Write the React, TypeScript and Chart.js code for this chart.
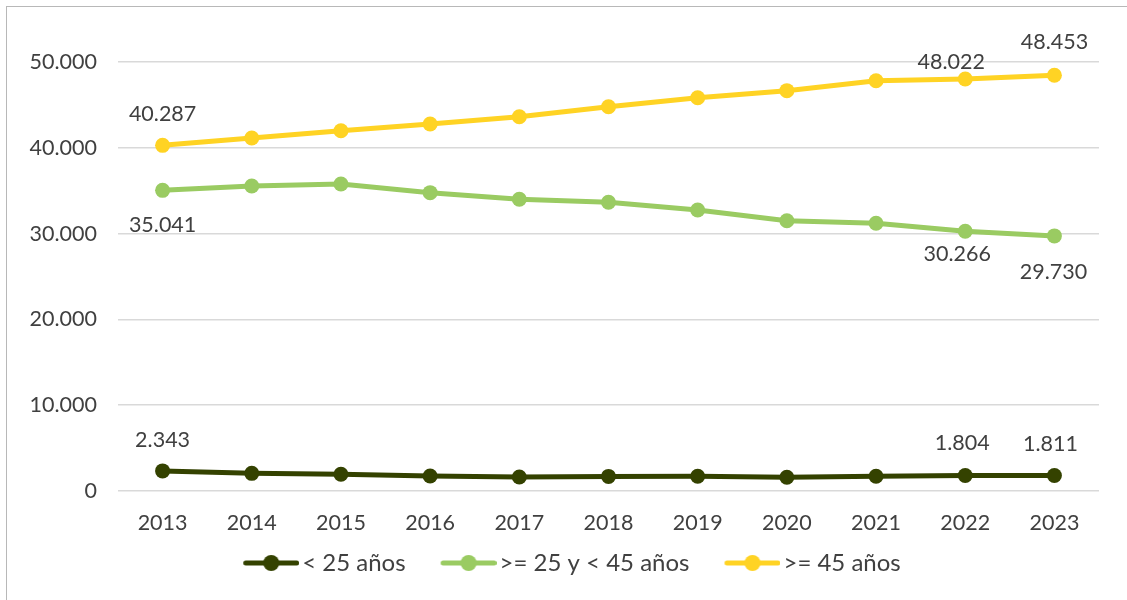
import React, { useEffect, useRef } from "react";
import { Chart, registerables } from "chart.js";

Chart.register(...registerables);

const years = ["2013", "2014", "2015", "2016", "2017", "2018", "2019", "2020", "2021", "2022", "2023"];
const seriesNames = ["< 25 años", ">= 25 y < 45 años", ">= 45 años"];
const under25 = [2343, 2060, 1950, 1750, 1630, 1700, 1720, 1600, 1720, 1804, 1811];
const from25to45 = [35041, 35550, 35780, 34770, 34000, 33650, 32750, 31500, 31200, 30266, 29730];
const over45 = [40287, 41140, 41990, 42770, 43620, 44790, 45840, 46660, 47820, 48022, 48453];
const labelledIndices = [0, 9, 10];

const colors = ["#344200", "#9ACB62", "#FFD324"];
const FONT = "Lato, 'Open Sans', sans-serif";
const TEXT = "#404040";

// label offsets (dx, dy) per dataset, per labelled index
const labelOffsets: Record<number, Record<number, [number, number]>> = {
  0: { 0: [0, -31], 9: [-3, -32], 10: [-4, -31] },
  1: { 0: [0, 35], 9: [-8, 23], 10: [-1, 36] },
  2: { 0: [0, -31], 9: [-14, -17], 10: [0, -33] },
};

function fmt(v: number): string {
  const s = Math.round(v).toString();
  return s.replace(/\B(?=(\d{3})+(?!\d))/g, ".");
}

function legendImage(color: string): HTMLCanvasElement {
  const c = document.createElement("canvas");
  c.width = 90;
  c.height = 20;
  const ctx = c.getContext("2d")!;
  ctx.strokeStyle = color;
  ctx.lineWidth = 5;
  ctx.lineCap = "round";
  ctx.beginPath();
  ctx.moveTo(36.5, 10);
  ctx.lineTo(87.5, 10);
  ctx.stroke();
  ctx.fillStyle = color;
  ctx.beginPath();
  ctx.arc(62, 10, 8, 0, Math.PI * 2);
  ctx.fill();
  return c;
}

const labelPlugin = {
  id: "valueLabels",
  afterDatasetsDraw(chart: any) {
    const ctx = chart.ctx;
    ctx.save();
    ctx.font = `21.5px ${FONT}`;
    ctx.fillStyle = TEXT;
    ctx.textAlign = "center";
    ctx.textBaseline = "middle";
    chart.data.datasets.forEach((ds: any, di: number) => {
      const meta = chart.getDatasetMeta(di);
      labelledIndices.forEach((i) => {
        const p = meta.data[i];
        if (!p) return;
        const [dx, dy] = labelOffsets[di][i];
        ctx.fillText(fmt(ds.data[i]), p.x + dx, p.y + dy);
      });
    });
    ctx.restore();
  },
};

export default function App() {
  const ref = useRef<HTMLCanvasElement>(null);

  useEffect(() => {
    if (!ref.current) return;
    const series = [under25, from25to45, over45];
    const chart = new Chart(ref.current, {
      type: "line",
      data: {
        labels: years,
        datasets: series.map((d, i) => ({
          label: seriesNames[i],
          data: d,
          borderColor: colors[i],
          backgroundColor: colors[i],
          borderWidth: 5,
          pointRadius: 7.5,
          pointHoverRadius: 7.5,
          pointBorderWidth: 0,
          pointStyle: "circle",
          tension: 0,
        })),
      },
      options: {
        animation: false,
        responsive: false,
        layout: { padding: { top: 62, right: 28, bottom: 15, left: 20 } },
        plugins: {
          legend: {
            position: "bottom",
            labels: {
              usePointStyle: true,
              pointStyleWidth: 72,
              boxHeight: 24,
              padding: 10,
              color: TEXT,
              font: { family: FONT, size: 24 },
              generateLabels: (ch: any) =>
                ch.data.datasets.map((ds: any, i: number) => ({
                  text: ds.label,
                  fillStyle: colors[i],
                  strokeStyle: colors[i],
                  lineWidth: 0,
                  pointStyle: legendImage(colors[i]),
                  fontColor: TEXT,
                  hidden: false,
                  datasetIndex: i,
                })),
            },
          },
          tooltip: { enabled: false },
        },
        scales: {
          x: {
            offset: true,
            grid: { display: false, drawTicks: false },
            border: { display: false },
            ticks: { color: TEXT, font: { family: FONT, size: 21.5 }, padding: 19 },
            afterFit: (s: any) => {
              s.height = 50;
            },
          },
          y: {
            min: 0,
            max: 50000,
            grid: { color: "#D9D9D9", lineWidth: 1.5, drawTicks: false },
            border: { display: false },
            ticks: {
              stepSize: 10000,
              color: TEXT,
              font: { family: FONT, size: 21.5 },
              padding: 21,
              callback: (v: any) => fmt(Number(v)),
            },
            afterFit: (s: any) => {
              s.width = 98;
            },
          },
        },
      },
      plugins: [labelPlugin],
    });
    return () => chart.destroy();
  }, []);

  return (
    <div style={{ position: "fixed", left: 0, top: 0, width: 1127, height: 600, overflow: "hidden", background: "#fff" }}>
      <div
        style={{
          position: "absolute",
          left: 6,
          top: 6,
          width: 1200,
          height: 700,
          borderLeft: "1.5px solid #B8B8B8",
          borderTop: "1.5px solid #B8B8B8",
        }}
      />
      <canvas ref={ref} width={1127} height={600} style={{ position: "absolute", left: 0, top: 0 }} />
    </div>
  );
}
